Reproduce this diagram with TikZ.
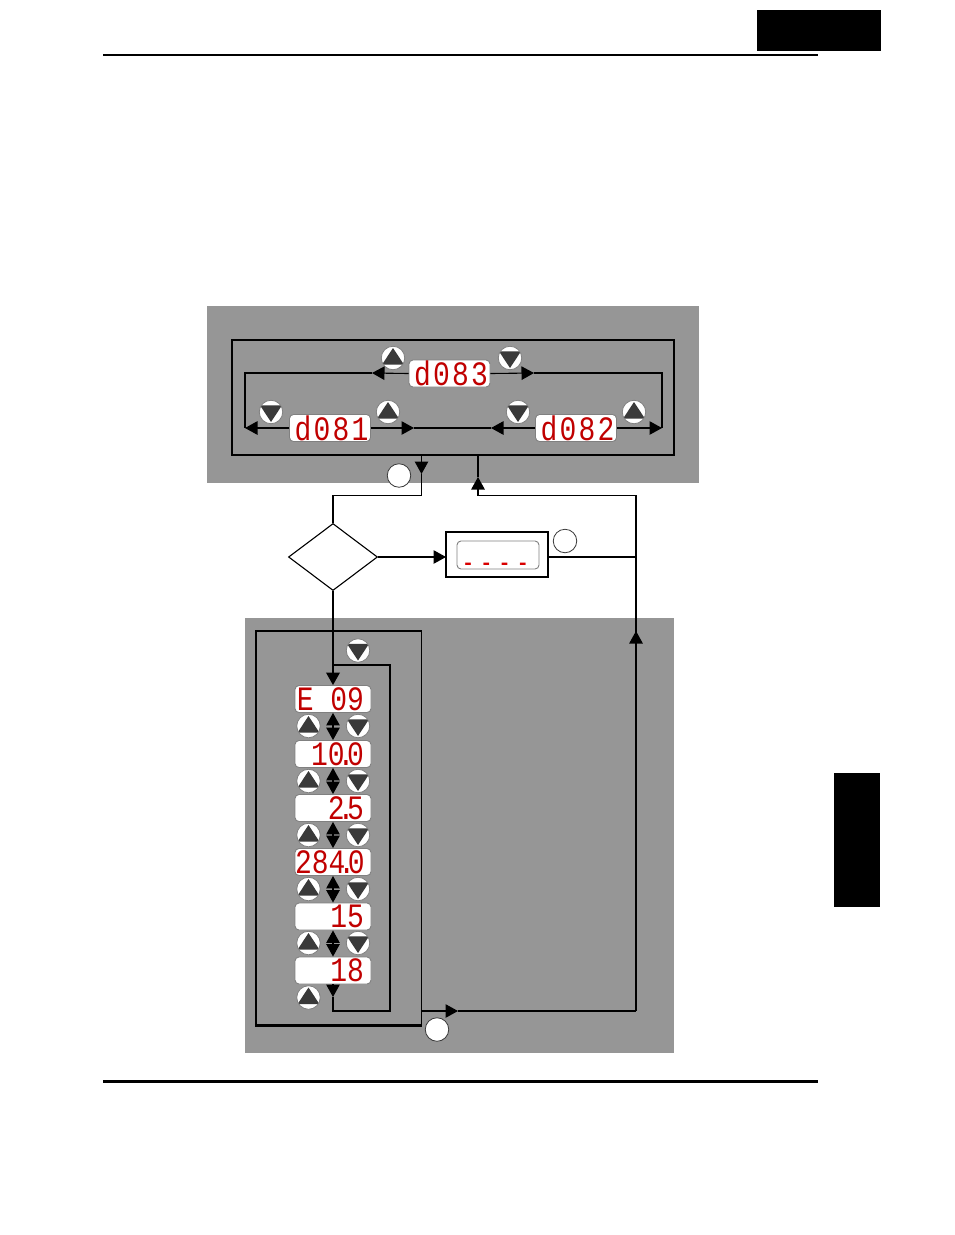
\documentclass[tikz,border=0pt]{standalone}
\usepackage{fontspec}
\usetikzlibrary{arrows.meta,shapes.geometric}
\newfontfamily\lcdfont{Liberation Mono}
\newfontfamily\lcdwidefont[LetterSpace=8]{Liberation Mono}
\newcommand{\lcddot}{\makebox[2.5pt]{.}}
\newcommand{\lcdgap}{\kern16.8pt\relax}
\newcommand{\lcd}[1]{\scalebox{1}[1.22]{\lcdfont\fontsize{28}{28}\selectfont #1}\kern7pt\relax}
\newcommand{\lcdwide}[1]{\scalebox{1}[1.22]{\lcdwidefont\fontsize{28}{28}\selectfont #1}\kern2pt\relax}
\definecolor{panelgray}{HTML}{969696}
\definecolor{btndark}{HTML}{3A3A3A}
\definecolor{lcdred}{HTML}{C00000}
\begin{document}
\begin{tikzpicture}[x=1pt, y=-1pt, >={Triangle[length=12.5pt,width=13.5pt]}, line width=1.1pt,
  display/.style={draw=gray, line width=0.9pt, fill=white, rounded corners=4pt, minimum height=27pt, text width=76pt, minimum width=76pt, inner sep=0pt, align=right, text=lcdred},
  monitor/.style={display, text width=81pt, minimum width=81pt},
  btn/.style={circle, draw=gray, line width=0.8pt, fill=white, minimum size=23.5pt, inner sep=0pt},
  upbtn/.style={btn, path picture={\fill[btndark] ([yshift=10pt]path picture bounding box.center) -- ++(11pt,-16.7pt) -- ++(-22pt,0pt) -- cycle;}},
  downbtn/.style={btn, path picture={\fill[btndark] ([yshift=-10pt]path picture bounding box.center) -- ++(11pt,16.7pt) -- ++(-22pt,0pt) -- cycle;}},
  refmark/.style={circle, draw=btndark, line width=0.8pt, fill=white, minimum size=23.5pt, inner sep=0pt},
  framebox/.style={draw=black, line width=2pt, minimum width=#1, inner sep=0pt}]
  \useasboundingbox (0,0) rectangle (954,1235);

  % Page marks
  \fill[black] (757,10) rectangle (881,51);
  \fill[black] (834,773) rectangle (880,907);
  \draw[line width=2pt] (103,55) -- (818,55);
  \draw[line width=3pt] (103,1081) -- (818,1081);

  % Panels
  \fill[panelgray] (207,306) rectangle (699,483);
  \fill[panelgray] (245,618) rectangle (674,1053);

  % Frames
  \node[framebox=442pt, minimum height=115pt] (menuframe) at (453,397.5) {};
  \node[draw=black, line width=1.2pt, minimum width=165pt, minimum height=394pt, inner sep=0pt] (editframe) at (339,828) {};
  \draw[line width=2.2pt] (editframe.north west) -- (editframe.south west) -- (editframe.south east);

  % Monitor displays
  \node[monitor] (d083) at (449.5,373.5) {\lcdwide{d083}};
  \node[monitor] (d081) at (330,428) {\lcdwide{d081}};
  \node[monitor] (d082) at (576,428) {\lcdwide{d082}};

  \node[upbtn] (up83) at (393,358) {};
  \node[downbtn] (down83) at (510,358) {};
  \node[downbtn] (down81) at (271,412) {};
  \node[upbtn] (up81) at (388,412) {};
  \node[downbtn] (down82) at (518,412) {};
  \node[upbtn] (up82) at (634,412) {};

  % Decision and blank display
  \node[draw=black, diamond, aspect=1.33, minimum width=89pt, minimum height=67pt, inner sep=0pt] (choice) at (333,557) {};
  \node[framebox=102pt, minimum height=45pt] (blankbox) at (497,554.5) {};
  \node[draw=gray, line width=0.9pt, fill=white, rounded corners=4pt, minimum width=82pt, minimum height=28pt, inner sep=0pt] (blank) at (498,555) {};
  \node[text=red!85!black, inner sep=0pt, font=\lcdfont\bfseries\fontsize{20}{20}\selectfont] (blanktext) at (495.5,566) {-\kern6.3pt-\kern6.3pt-\kern6.3pt-};

  \node[refmark] (markA) at (399,475.5) {};
  \node[refmark] (markB) at (565,541) {};
  \node[refmark] (markC) at (437,1029.5) {};

  % Edit displays
  \node[downbtn] (loopbtn) at (358,650.5) {};
  \node[display] (dispE) at (333,699) {\lcd{E\lcdgap 09}};
  \node[display] (dispF) at (333,754) {\lcd{10\lcddot 0}};
  \node[display] (dispG) at (333,808) {\lcd{2\lcddot 5}};
  \node[display] (dispH) at (333,862) {\lcd{284\lcddot 0}};
  \node[display] (dispI) at (333,916.5) {\lcd{15}};
  \node[display] (dispJ) at (333,970.5) {\lcd{18}};

  \node[upbtn] (upE) at (308.5,726) {};
  \node[downbtn] (downE) at (358,726) {};
  \node[upbtn] (upF) at (308.5,781) {};
  \node[downbtn] (downF) at (358,781) {};
  \node[upbtn] (upG) at (308.5,835) {};
  \node[downbtn] (downG) at (358,835) {};
  \node[upbtn] (upH) at (308.5,889) {};
  \node[downbtn] (downH) at (358,889) {};
  \node[upbtn] (upI) at (308.5,943) {};
  \node[downbtn] (downI) at (358,943) {};
  \node[upbtn] (upJ) at (308.5,997.5) {};

  % Connector points
  \coordinate (tipA) at (372,373);
  \coordinate (tipB) at (534,373);
  \coordinate (tipC) at (414,428);
  \coordinate (tipD) at (491,428);
  \coordinate (topL) at (245,373);
  \coordinate (topR) at (662,373);
  \coordinate (botL) at (245,428);
  \coordinate (botR) at (662,428);
  \coordinate (exitA) at (421.5,455);
  \coordinate (exitTip) at (421.5,474);
  \coordinate (exitBend) at (421.5,495.5);
  \coordinate (exitEnd) at (333,495.5);
  \coordinate (backA) at (478,455);
  \coordinate (backTip) at (478,477);
  \coordinate (backBend) at (478,495.5);
  \coordinate (backR) at (636,495.5);
  \coordinate (riseTip) at (636,631);
  \coordinate (riseLow) at (636,1011);
  \coordinate (runA) at (421.5,1011);
  \coordinate (runTip) at (458,1011);
  \coordinate (blankIn) at (446,557);
  \coordinate (blankOut) at (548,557);
  \coordinate (joinR) at (636,557);
  \coordinate (loopTip) at (333,997);
  \coordinate (loopA) at (333,1011);
  \coordinate (loopB) at (390,1011);
  \coordinate (loopC) at (390,665);
  \coordinate (loopD) at (333,665);

  % Monitor loop
  \draw[->] (d083.west) -- (tipA);
  \draw (tipA) -- (topL) -- (botL);
  \draw[->] (d081.west) -- (botL);
  \draw[->] (d083.east) -- (tipB);
  \draw (tipB) -- (topR) -- (botR);
  \draw[->] (d082.east) -- (botR);
  \draw[->] (d081.east) -- (tipC);
  \draw[->] (d082.west) -- (tipD);
  \draw (tipC) -- (tipD);

  % Flow
  \draw[->] (exitA) -- (exitTip);
  \draw (exitTip) -- (exitBend) -- (exitEnd) -- (choice.north);
  \draw[->] (backBend) -- (backTip);
  \draw (backTip) -- (backA);
  \draw (backBend) -- (backR) -- (riseLow);
  \draw[->] (riseLow) -- (riseTip);
  \draw[->] (choice.east) -- (blankIn);
  \draw (blankOut) -- (joinR);
  \draw[->] (runA) -- (runTip);
  \draw (runTip) -- (riseLow);
  \draw[->, line width=2pt] (choice.south) -- (dispE.north);

  % Edit loop
  \draw[<->] (dispE.south) -- (dispF.north);
  \draw[<->] (dispF.south) -- (dispG.north);
  \draw[<->] (dispG.south) -- (dispH.north);
  \draw[<->] (dispH.south) -- (dispI.north);
  \draw[<->] (dispI.south) -- (dispJ.north);
  \draw[->] (dispJ.south) -- (loopTip);
  \draw (loopTip) -- (loopA) -- (loopB) -- (loopC) -- (loopD);
\end{tikzpicture}
\end{document}
